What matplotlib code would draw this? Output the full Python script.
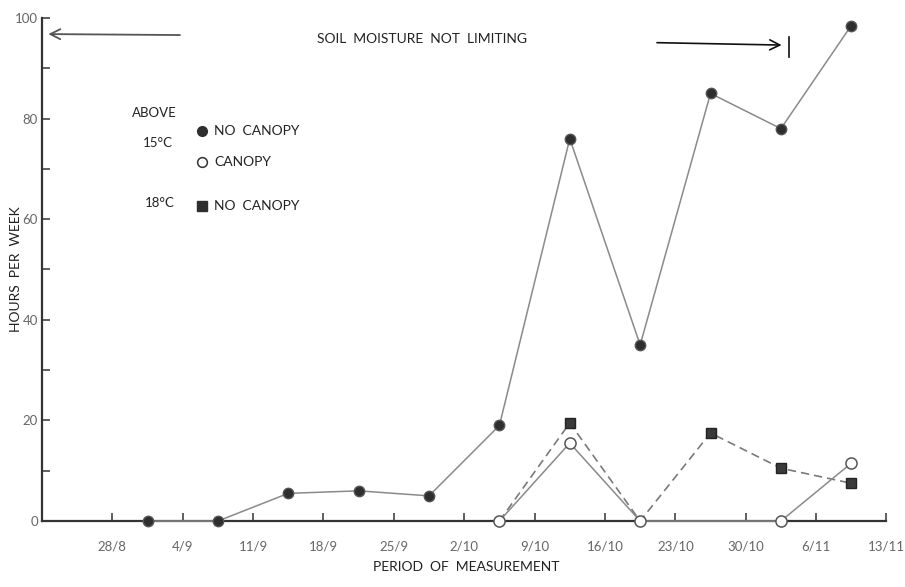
import matplotlib
matplotlib.use("Agg")
import matplotlib.pyplot as plt
import numpy as np

# Weekly periods (tick = start date of each week)
week_labels = ["28/8", "4/9", "11/9", "18/9", "25/9", "2/10", "9/10",
               "16/10", "23/10", "30/10", "6/11", "13/11"]

# Hours per week above 15 C, no canopy (one value per week, from 28/8)
above15_no_canopy = [0, 0, 5.5, 6, 5, 19, 76, 35, 85, 78, 98.5]

# Hours per week above 15 C, under canopy (weeks starting 2/10 onwards)
above15_canopy_idx = [5, 6, 7, 9, 10]
above15_canopy = [0, 15.5, 0, 0, 11.5]

# Hours per week above 18 C, no canopy (weeks starting 2/10 onwards)
above18_idx = [5, 6, 7, 8, 9, 10]
above18_no_canopy = [0, 19.5, 0, 17.5, 10.5, 7.5]

plt.rcParams["font.family"] = ["Lato", "DejaVu Sans"]

fig = plt.figure(figsize=(9.05, 5.87), dpi=100)
ax = fig.add_axes([0.0464, 0.1124, 0.937, 0.857])


def mid(idx):
    return np.asarray(idx, dtype=float) + 0.5


line_col = "#8a8a8a"
mark_col = "#2e2e2e"

# 18 C, no canopy: dashed line, square markers where non-zero
y18 = np.asarray(above18_no_canopy)
ax.plot(mid(above18_idx), y18, ls=(0, (5, 3)), color="#7a7a7a", lw=1.2,
        zorder=2, clip_on=False)
nz = y18 > 0
ax.plot(mid(above18_idx)[nz], y18[nz], ls="none", marker="s", ms=7,
        mfc="#3a3a3a", mec="#222222", zorder=4, clip_on=False)

# 15 C, canopy: solid line, open circles
ax.plot(mid(above15_canopy_idx), above15_canopy, color=line_col, lw=1.1,
        marker="o", ms=8, mfc="white", mec="#555555", mew=1.1,
        zorder=3, clip_on=False)

# 15 C, no canopy: solid line, filled circles
ax.plot(mid(range(len(above15_no_canopy))), above15_no_canopy,
        color=line_col, lw=1.1, marker="o", ms=7.5, mfc=mark_col,
        mec="#555555", zorder=5, clip_on=False)

# axes styling
ax.set_xlim(-1, 11.05)
ax.set_ylim(0, 100)
for s in ("top", "right"):
    ax.spines[s].set_visible(False)
for s in ("left", "bottom"):
    ax.spines[s].set_color("#333333")
    ax.spines[s].set_linewidth(1.6)
ax.spines["bottom"].set_bounds(-1, 11)

ax.set_xticks(np.arange(len(week_labels)))
ax.set_xticklabels(week_labels)
ax.set_yticks([0, 20, 40, 60, 80, 100])
ax.set_yticks(np.arange(10, 100, 20), minor=True)
ax.tick_params(axis="both", which="both", direction="in", length=6,
               width=1.2, color="#444444", labelcolor="#666666",
               labelsize=9.5)
ax.tick_params(axis="x", pad=14)
ax.tick_params(axis="y", pad=3)

ax.set_ylabel("HOURS  PER  WEEK", fontsize=10, color="#222222")
ax.yaxis.set_label_coords(-0.024, 0.5)
ax.set_xlabel("PERIOD  OF  MEASUREMENT", fontsize=10, color="#222222",
              labelpad=6)

# soil moisture annotation
ax.text(4.4, 95.8, "SOIL  MOISTURE  NOT  LIMITING", fontsize=10,
        color="#222222", ha="center", va="center")
ax.annotate("", xy=(-0.95, 96.8), xytext=(1.0, 96.6),
            arrowprops=dict(arrowstyle="->", color="#555555", lw=1.3,
                            mutation_scale=18))
ax.annotate("", xy=(9.55, 94.6), xytext=(7.7, 95.1),
            arrowprops=dict(arrowstyle="->", color="#111111", lw=1.2,
                            mutation_scale=18))
ax.plot([9.62, 9.62], [92.3, 96.3], color="#111111", lw=1.2)

# key
ax.text(0.6, 80.4, "ABOVE", fontsize=9.5, color="#222222", ha="center")
ax.text(0.65, 74.3, "15\u00b0C", fontsize=9.5, color="#222222", ha="center")
ax.text(0.67, 62.5, "18\u00b0C", fontsize=9.5, color="#222222", ha="center")
ax.plot([1.28], [77.6], "o", ms=7, mfc=mark_col, mec=mark_col)
ax.plot([1.28], [71.4], "o", ms=7, mfc="white", mec="#333333", mew=1.1)
ax.plot([1.28], [62.6], "s", ms=6.5, mfc=mark_col, mec=mark_col)
ax.text(1.45, 77.6, "NO  CANOPY", fontsize=10, color="#222222", va="center")
ax.text(1.45, 71.4, "CANOPY", fontsize=10, color="#222222", va="center")
ax.text(1.45, 62.6, "NO  CANOPY", fontsize=10, color="#222222", va="center")

fig.savefig("out.png", dpi=100, facecolor="white")
